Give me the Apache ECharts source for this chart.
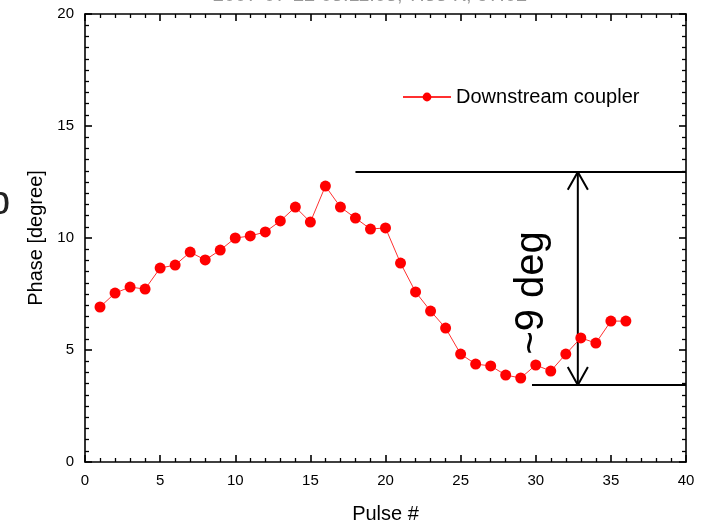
<!DOCTYPE html>
<html>
<head>
<meta charset="utf-8">
<script src="https://cdn.jsdelivr.net/npm/echarts@6/dist/echarts.min.js"></script>
<style>html,body{margin:0;padding:0;background:#fff}#c{width:707px;height:523px}</style>
</head>
<body>
<div id="c"></div>
<script>
const pulses = [1,2,3,4,5,6,7,8,9,10,11,12,13,14,15,16,17,18,19,20,21,22,23,24,25,26,27,28,29,30,31,32,33,34,35,36];
const phase = [6.92,7.54,7.81,7.72,8.66,8.79,9.37,9.02,9.46,10.0,10.09,10.27,10.76,11.38,10.71,12.32,11.38,10.89,10.4,10.45,8.88,7.59,6.74,5.98,4.82,4.37,4.29,3.88,3.75,4.33,4.06,4.82,5.54,5.31,6.29,6.29];
const xTicks = [0,5,10,15,20,25,30,35,40];
const yTicks = [0,5,10,15,20];
const topLine = [[18,12.95],[40,12.95]];
const bottomLine = [[29.75,3.44],[40,3.44]];
const arrowShaft = [[32.8,12.95],[32.8,3.44]];
const arrowHeadTop = [[32.13,12.15],[32.8,12.95],[33.47,12.15]];
const arrowHeadBottom = [[32.13,4.24],[32.8,3.44],[33.47,4.24]];
const seriesName = 'Downstream coupler';
const annotText = '~9 deg';

const chart = echarts.init(document.getElementById('c'), null, {renderer:'canvas'});
const F = 'Liberation Sans, Arial, sans-serif';
function xAx(pos, labels){
  return {type:'value', position:pos, min:xTicks[0], max:xTicks[xTicks.length-1], interval:5,
    axisLine:{show:true,onZero:false,lineStyle:{color:'#000',width:1.6}},
    axisTick:{show:true,inside:true,length:7,lineStyle:{color:'#000',width:1.6}},
    minorTick:{show:true,splitNumber:5,length:4,lineStyle:{color:'#000',width:1.3}},
    splitLine:{show:false},
    axisLabel:{show:labels,color:'#000',fontFamily:F,fontSize:15,margin:11},
    name: labels?'Pulse #':'', nameLocation:'middle', nameGap:42,
    nameTextStyle:{color:'#000',fontFamily:F,fontSize:20}};
}
function yAx(pos, labels){
  return {type:'value', position:pos, min:yTicks[0], max:yTicks[yTicks.length-1], interval:5,
    axisLine:{show:true,onZero:false,lineStyle:{color:'#000',width:1.6}},
    axisTick:{show:true,inside:true,length:7,lineStyle:{color:'#000',width:1.6}},
    minorTick:{show:true,splitNumber:10,length:4,lineStyle:{color:'#000',width:1.3}},
    splitLine:{show:false},
    axisLabel:{show:labels,color:'#000',fontFamily:F,fontSize:15,margin:11},
    name: labels?'Phase [degree]':'', nameLocation:'middle', nameGap:39,
    nameTextStyle:{color:'#000',fontFamily:F,fontSize:20}};
}
function annot(data){
  return {type:'line', data:data, symbol:'none', silent:true, clip:false,
    lineStyle:{color:'#000',width:2}, z:3};
}
chart.setOption({
  animation:false,
  grid:{left:85,right:21,top:14,bottom:61,containLabel:false,outerBoundsMode:'none'},
  xAxis:[xAx('bottom',true), xAx('top',false)],
  yAxis:[yAx('left',true), yAx('right',false)],
  legend:{data:[seriesName], left:397, top:82, itemWidth:48, itemHeight:11, itemGap:7,
    textStyle:{color:'#000',fontFamily:F,fontSize:20}},
  series:[
    {name:seriesName, type:'line', data:pulses.map((p,i)=>[p,phase[i]]),
      symbol:'circle', symbolSize:11, itemStyle:{color:'#ff0000'},
      lineStyle:{color:'#ff3030',width:1}, z:4},
    annot(topLine), annot(bottomLine), annot(arrowShaft), annot(arrowHeadTop), annot(arrowHeadBottom)
  ]
});
const tp = chart.convertToPixel({xAxisIndex:0,yAxisIndex:0},[29.75,7.55]);
chart.setOption({
  graphic:[
    {type:'text', x:tp[0], y:tp[1], rotation:Math.PI/2,
      style:{text:annotText, fill:'#000', font:'40px '+F, align:'center', verticalAlign:'middle'}},
    {type:'text', x:370, y:-15,
      style:{text:'2007-07-22 05:11:05, 7:55 K, 97:02', fill:'#999', font:'20px '+F, align:'center', verticalAlign:'top'}},
    {type:'text', x:-12, y:183,
      style:{text:'b', fill:'#222', font:'40px '+F, align:'left', verticalAlign:'top'}}
  ]
});
</script>
</body>
</html>
